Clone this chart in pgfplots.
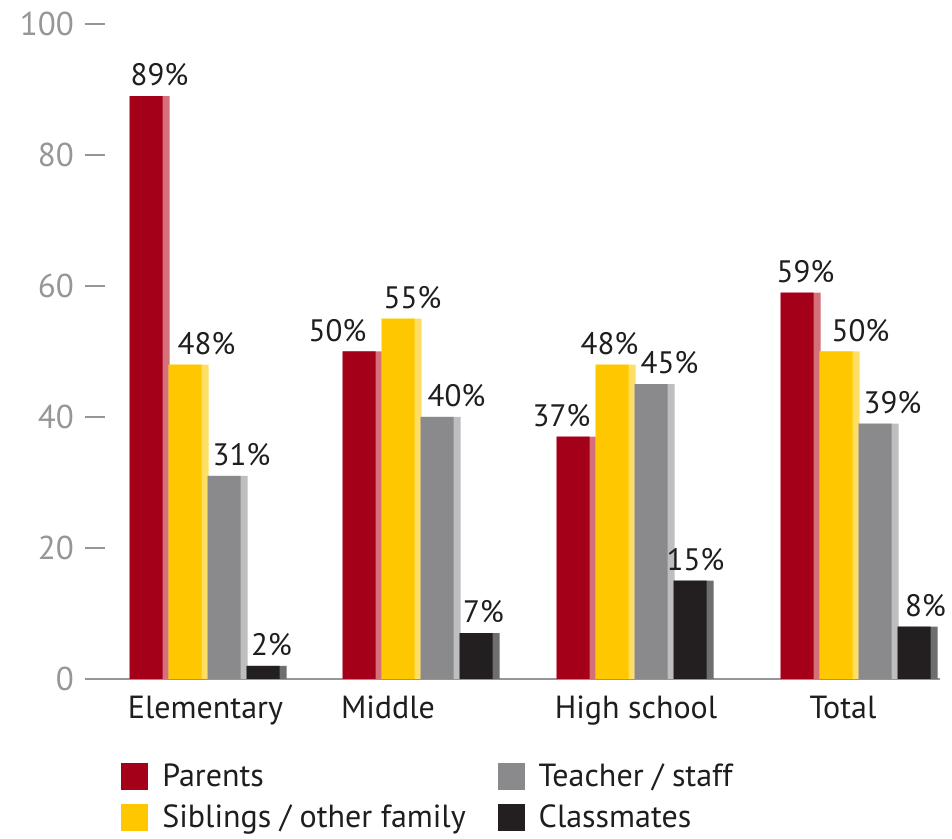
\documentclass[border=0pt]{standalone}
\usepackage{fontspec}
\setmainfont{PT Sans}
\usepackage{pgfplots}
\usepackage{pgfplotstable}
\pgfplotsset{compat=1.18}

\definecolor{parD}{RGB}{165,0,25}
\definecolor{parL}{RGB}{212,112,122}
\definecolor{sibD}{RGB}{255,199,0}
\definecolor{sibL}{RGB}{255,222,100}
\definecolor{teaD}{RGB}{138,138,140}
\definecolor{teaL}{RGB}{190,190,192}
\definecolor{claD}{RGB}{35,31,32}
\definecolor{claL}{RGB}{110,110,110}
\definecolor{tickgray}{RGB}{150,150,150}
\definecolor{txt}{RGB}{30,30,30}

% x = group centre, y = percent, dx = label offset
\pgfplotstableread{
x y dx
208 89 10
421 50 -25
635 37 -15
859 59 5
}\parents
\pgfplotstableread{
x y dx
208 48 18
421 55 11
635 48 -6
859 50 21
}\siblings
\pgfplotstableread{
x y dx
208 31 14
421 40 16
635 45 15
859 39 14
}\teacher
\pgfplotstableread{
x y dx
208 2 5
421 7 4
635 15 2
859 8 8
}\classmates

\pgfplotsset{
  lightbar/.style={draw=none, forget plot,
    visualization depends on={\thisrow{dx} \as \dx},
    nodes near coords={\pgfmathprintnumber{\pgfplotspointmeta}\%},
    every node near coord/.append style={xshift=\dx*0.5pt, yshift=1.5pt,
      font=\fontsize{15.5}{17}\selectfont, text=txt}},
}

\begin{document}
\begin{tikzpicture}
\useasboundingbox (-42.5pt,-80pt) rectangle (433.5pt,339.5pt);
\begin{axis}[
  scale only axis, width=427.5pt, height=327.5pt,
  at={(0,0)}, anchor=south west,
  xmin=85, xmax=940, ymin=0, ymax=100,
  ybar, clip=false,
  axis x line*=bottom, axis y line*=left,
  x axis line style={draw=tickgray, line width=1pt},
  y axis line style={draw=none},
  ytick={0,20,...,100},
  ytick style={draw=tickgray, line width=1pt},
  major tick length=10pt, tick align=inside,
  yticklabel style={font=\fontsize{16.5}{18}\selectfont, text=tickgray, xshift=-2pt},
  /pgf/number format/assume math mode=true,
  xtick={205.5,388,636,843},
  xticklabels={Elementary,Middle,High school,Total},
  x tick style={draw=none},
  xticklabel style={font=\fontsize{16}{18}\selectfont, text=txt, yshift=-5pt},
  legend columns=2,
  legend style={at={(0.042,-0.122)}, anchor=north west, draw=none, fill=none,
    inner sep=0pt, row sep=4pt, font=\fontsize{16}{18}\selectfont, text=txt,
    /tikz/every odd column/.append style={column sep=5pt},
    /tikz/every even column/.append style={column sep=14pt}},
  legend cell align=left,
  legend image code/.code={\fill[#1] (0pt,-6.75pt) rectangle (13.5pt,6.75pt);},
]
% lighter right edge of every bar
\addplot[lightbar, fill=parL, bar width=40, bar shift=-58.5] table[x=x,y=y] {\parents};
\addplot[lightbar, fill=sibL, bar width=40, bar shift=-19.5] table[x=x,y=y] {\siblings};
\addplot[lightbar, fill=teaL, bar width=40, bar shift=19.5] table[x=x,y=y] {\teacher};
\addplot[lightbar, fill=claL, bar width=40, bar shift=58.5] table[x=x,y=y] {\classmates};
% main bars (order gives the legend layout)
\addplot[draw=none, fill=parD, bar width=33, bar shift=-62] table[x=x,y=y] {\parents};
\addplot[draw=none, fill=teaD, bar width=33, bar shift=16] table[x=x,y=y] {\teacher};
\addplot[draw=none, fill=sibD, bar width=33, bar shift=-23] table[x=x,y=y] {\siblings};
\addplot[draw=none, fill=claD, bar width=33, bar shift=55] table[x=x,y=y] {\classmates};
\legend{Parents, Teacher / staff, Siblings / other family, Classmates}
\end{axis}
\end{tikzpicture}
\end{document}
